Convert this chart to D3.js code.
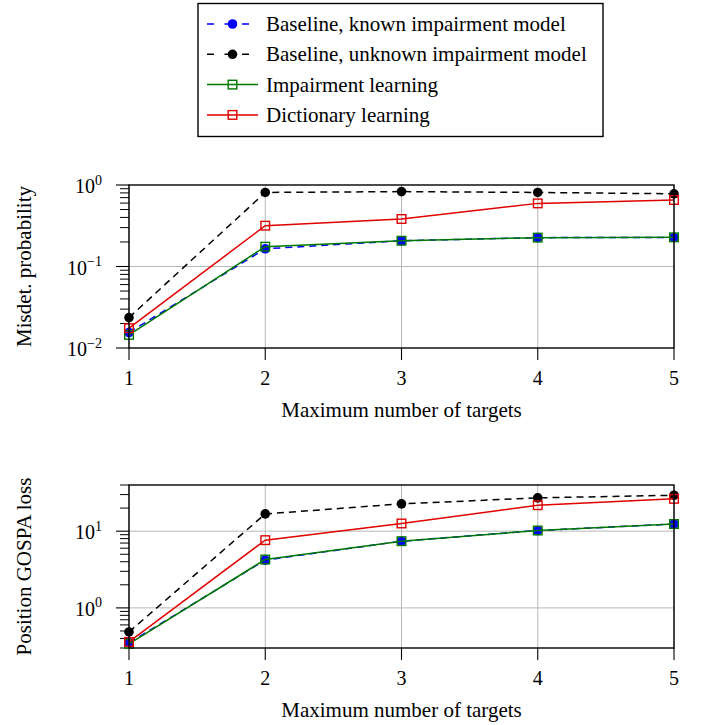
<!DOCTYPE html>
<html><head><meta charset="utf-8">
<script src="https://cdn.jsdelivr.net/npm/d3@7"></script>
<style>
body{margin:0;background:#fff;}
</style></head>
<body><svg id="c" width="701" height="725"></svg>
<script>
const xValues = [1, 2, 3, 4, 5];
const seriesNames = ["Baseline, known impairment model", "Baseline, unknown impairment model", "Impairment learning", "Dictionary learning"];
const misdetKnown   = [0.0155, 0.165, 0.207, 0.226, 0.227];
const misdetUnknown = [0.0236, 0.81, 0.83, 0.81, 0.78];
const misdetImpair  = [0.0145, 0.175, 0.207, 0.226, 0.228];
const misdetDict    = [0.0175, 0.317, 0.383, 0.595, 0.655];
const gospaKnown    = [0.35, 4.2, 7.4, 10.2, 12.4];
const gospaUnknown  = [0.486, 16.8, 22.7, 27.2, 29.4];
const gospaImpair   = [0.34, 4.27, 7.41, 10.2, 12.4];
const gospaDict     = [0.36, 7.64, 12.6, 21.8, 26.4];
const misdetTicks = [0.01, 0.1, 1];
const gospaTicks = [1, 10];
const xLabel = "Maximum number of targets";

const FONT = "Liberation Serif";

const styles = [
  {color:"#0000ff", dash:"7,5", marker:"circle"},
  {color:"#000000", dash:"7,5", marker:"circle"},
  {color:"#007800", dash:null, marker:"square"},
  {color:"#e00000", dash:null, marker:"square"}
];

const svg = d3.select("#c");
const L = 129, R = 674;
const x = d3.scaleLinear().domain([1,5]).range([L,R]);

function txt(g){ return g.append("text").attr("font-family",FONT).attr("fill","#000"); }

function drawMarker(g, type, cx, cy, color){
  if(type==="circle"){
    g.append("circle").attr("cx",cx).attr("cy",cy).attr("r",4.8).attr("fill",color);
  } else {
    const s=8.6;
    g.append("rect").attr("x",cx-s/2).attr("y",cy-s/2).attr("width",s).attr("height",s)
      .attr("fill","none").attr("stroke",color).attr("stroke-width",1.4);
  }
}

function panel(top, bottom, domain, ticks, series, ylabel){
  const y = d3.scaleLog().domain(domain).range([bottom, top]);
  const g = svg.append("g");
  g.selectAll(".gx").data(xValues).join("line").attr("x1",d=>x(d)).attr("x2",d=>x(d))
    .attr("y1",top).attr("y2",bottom).attr("stroke","#b8b8b8").attr("stroke-width",1);
  g.selectAll(".gy").data(ticks.filter(t=>t>domain[0]&&t<domain[1])).join("line")
    .attr("x1",L).attr("x2",R).attr("y1",d=>y(d)).attr("y2",d=>y(d)).attr("stroke","#b8b8b8").attr("stroke-width",1);
  const minors=[];
  const lo=Math.floor(Math.log10(domain[0])), hi=Math.ceil(Math.log10(domain[1]));
  for(let e=lo;e<=hi;e++) for(let m=2;m<=9;m++){const v=m*Math.pow(10,e); if(v>=domain[0]-1e-12&&v<=domain[1]+1e-9) minors.push(v);}
  g.selectAll(".mt").data(minors).join("line").attr("x1",L-9).attr("x2",L)
    .attr("y1",d=>y(d)).attr("y2",d=>y(d)).attr("stroke","#000").attr("stroke-width",1);
  g.selectAll(".Mt").data(ticks).join("line").attr("x1",L-13).attr("x2",L)
    .attr("y1",d=>y(d)).attr("y2",d=>y(d)).attr("stroke","#000").attr("stroke-width",1.1);
  g.selectAll(".xt").data(xValues).join("line").attr("x1",d=>x(d)).attr("x2",d=>x(d))
    .attr("y1",bottom).attr("y2",bottom+12).attr("stroke","#000").attr("stroke-width",1.1);
  ticks.forEach(t=>{
    const e=Math.round(Math.log10(t));
    const tx=txt(g).attr("x",102).attr("y",y(t)+8).attr("text-anchor","end").attr("font-size",20);
    tx.append("tspan").text("10");
    tx.append("tspan").attr("dy",-8.5).attr("font-size",14).text(e<0?"\u2212"+(-e):String(e));
  });
  xValues.forEach(d=>{
    txt(g).attr("x",x(d)).attr("y",bottom+37).attr("text-anchor","middle").attr("font-size",20).text(d);
  });
  txt(g).attr("x",(L+R)/2).attr("y",bottom+69).attr("text-anchor","middle")
    .attr("font-size",21).text(xLabel);
  txt(g).attr("transform",`translate(31,${(top+bottom)/2}) rotate(-90)`).attr("text-anchor","middle")
    .attr("font-size",21).text(ylabel);
  const line = d3.line().x((d,i)=>x(xValues[i])).y(d=>y(d));
  series.forEach((s,k)=>{
    const st=styles[k];
    g.append("path").attr("d",line(s)).attr("fill","none").attr("stroke",st.color)
      .attr("stroke-width",1.5).attr("stroke-dasharray",st.dash);
    s.forEach((v,i)=>drawMarker(g,st.marker,x(xValues[i]),y(v),st.color));
  });
  g.append("rect").attr("x",L).attr("y",top).attr("width",R-L).attr("height",bottom-top)
    .attr("fill","none").attr("stroke","#000").attr("stroke-width",1.4);
}

panel(185, 348, [0.01, 1], misdetTicks, [misdetKnown, misdetUnknown, misdetImpair, misdetDict], "Misdet. probability");
panel(485, 648, [0.3, 40], gospaTicks, [gospaKnown, gospaUnknown, gospaImpair, gospaDict], "Position GOSPA loss");

const lg = svg.append("g");
lg.append("rect").attr("x",198).attr("y",3.5).attr("width",405).attr("height",133)
  .attr("fill","#fff").attr("stroke","#000").attr("stroke-width",1.4);
seriesNames.forEach((n,k)=>{
  const cy = 24 + k*30.3, st=styles[k];
  lg.append("line").attr("x1",207).attr("x2",258).attr("y1",cy).attr("y2",cy)
    .attr("stroke",st.color).attr("stroke-width",1.5).attr("stroke-dasharray",st.dash?"7,10.5":null);
  drawMarker(lg, st.marker, 232.5, cy, st.color);
  txt(lg).attr("x",266).attr("y",cy+7).attr("font-size",21).text(n);
});
</script></body></html>
